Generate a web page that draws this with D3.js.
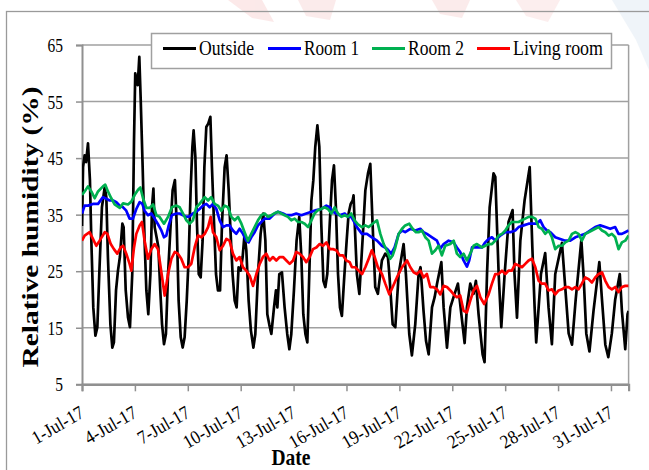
<!DOCTYPE html>
<html>
<head>
<meta charset="utf-8">
<script src="https://cdn.jsdelivr.net/npm/d3@7"></script>
<style>
  html, body { margin: 0; padding: 0; background: #ffffff; overflow: hidden; }
  text { font-family: "Liberation Serif", "Times New Roman", serif; fill: #000; }
</style>
</head>
<body>
<svg id="chart" width="649" height="470"></svg>
<script>
// Relative humidity, July 2017: outside air and three rooms.
// Each point is [days since 1 Jul 2017 00:00, RH %].
const startDate = new Date(2017, 6, 1);
const endDate = new Date(2017, 7, 1);
const yTickValues = [5, 15, 25, 35, 45, 55, 65];
const seriesNames = ["Outside", "Room 1", "Room 2", "Living room"];
const seriesColors = ["#000000", "#0000ff", "#00b050", "#ff0000"];

const outside = [[0,33],[0.06,43.4],[0.15,45.5],[0.23,44.3],[0.34,47.6],[0.45,41.1],[0.53,30.4],[0.64,18.6],[0.76,13.6],[0.87,15.1],[0.98,24.5],[1.13,36.3],[1.29,39.9],[1.38,38.1],[1.47,27.5],[1.61,15.6],[1.72,11.5],[1.81,12.4],[1.93,21.6],[2.04,25.1],[2.15,27.5],[2.29,33.4],[2.36,32.8],[2.48,21.6],[2.61,16.8],[2.72,15.1],[2.85,24.5],[2.95,48.2],[3.02,60.0],[3.10,58.8],[3.16,57.9],[3.25,62.9],[3.33,55.3],[3.44,43.4],[3.55,30.4],[3.65,21.6],[3.76,17.4],[3.88,24.5],[3.97,36.3],[4.05,39.6],[4.12,32.8],[4.23,31.0],[4.33,29.3],[4.44,21.6],[4.54,15.6],[4.65,12.1],[4.76,13.9],[4.88,24.5],[5.03,33.4],[5.14,39.3],[5.27,41.1],[5.37,33.4],[5.48,19.8],[5.60,13.3],[5.71,11.5],[5.82,13.3],[5.94,19.8],[6.05,27.5],[6.16,39.3],[6.26,47.0],[6.33,49.9],[6.43,45.2],[6.52,33.4],[6.62,24.5],[6.73,23.9],[6.84,30.4],[6.94,43.4],[7.05,50.5],[7.16,51.1],[7.28,52.3],[7.37,43.4],[7.49,33.4],[7.60,24.5],[7.71,21.6],[7.83,21.6],[7.94,33.4],[8.09,43.4],[8.20,45.5],[8.32,39.3],[8.43,31.6],[8.54,24.5],[8.66,19.8],[8.77,18.6],[8.88,25.7],[9.00,25.1],[9.11,27.5],[9.22,31.6],[9.32,28.7],[9.45,19.8],[9.58,14.5],[9.72,11.5],[9.83,13.9],[9.98,24.5],[10.13,31.6],[10.28,35.2],[10.40,30.4],[10.51,17.4],[10.62,15.6],[10.74,13.9],[10.89,18.6],[11.00,21.6],[11.08,18.6],[11.19,24.5],[11.34,24.8],[11.49,18.6],[11.64,13.9],[11.76,11.2],[11.87,13.9],[12.02,21.6],[12.17,30.4],[12.32,34.6],[12.44,27.5],[12.55,17.4],[12.67,13.9],[12.78,12.4],[12.89,24.5],[13.01,37.5],[13.12,41.1],[13.23,47.0],[13.35,50.8],[13.46,47.0],[13.57,33.4],[13.69,23.3],[13.80,22.2],[13.91,24.5],[14.05,33.4],[14.18,41.1],[14.29,43.7],[14.40,36.3],[14.52,24.5],[14.63,18.6],[14.74,17.1],[14.86,23.3],[15.01,30.4],[15.12,35.2],[15.24,36.9],[15.35,37.5],[15.40,38.4],[15.50,31],[15.59,24.5],[15.73,21.0],[15.91,30.4],[16.07,39.3],[16.22,42.3],[16.35,44.0],[16.48,33.4],[16.63,22.2],[16.78,21.0],[17.01,26.9],[17.20,28.1],[17.35,27.5],[17.43,24.5],[17.62,15.6],[17.77,15.1],[17.96,24.5],[18.24,29.8],[18.37,24.5],[18.56,13.9],[18.71,10.1],[18.90,15.6],[19.09,24.5],[19.20,25.7],[19.37,18],[19.51,12.7],[19.66,10.3],[19.85,18.6],[20.00,20.4],[20.13,22.7],[20.38,26.6],[20.51,18.6],[20.70,11.5],[20.89,18.6],[21.08,20.5],[21.32,22.8],[21.47,18.6],[21.70,12.3],[21.83,18.6],[22.02,22.8],[22.21,21],[22.34,23.3],[22.49,17.4],[22.72,10.3],[22.83,8.9],[22.97,24.5],[23.12,36.3],[23.34,42.3],[23.44,41.7],[23.63,24.5],[23.78,15.1],[23.97,24.5],[24.19,33.7],[24.42,35.8],[24.53,24.5],[24.67,16.8],[24.86,30.4],[25.10,37.5],[25.39,43.4],[25.54,29.3],[25.67,18.6],[25.76,12.4],[26.03,24.5],[26.27,28.2],[26.46,18.6],[26.65,12.1],[26.84,24.5],[27.22,30.0],[27.41,22],[27.60,14],[27.79,12.0],[28.0,20],[28.32,30.5],[28.45,24],[28.60,14],[28.78,10.8],[29.01,18],[29.34,26.6],[29.49,20],[29.68,12],[29.85,9.8],[30.05,14],[30.24,20],[30.50,24.5],[30.62,18],[30.81,11.2],[30.94,17.4],[31.0,18.0]];

const room1 = [[0,35.2],[0.15,36.6],[0.34,36.6],[0.62,36.9],[0.91,36.9],[1.19,38.1],[1.38,37.8],[1.57,37.5],[1.76,37.5],[1.95,37.2],[2.14,36.6],[2.33,36.3],[2.51,35.7],[2.70,34.3],[2.89,34.3],[3.08,36.0],[3.27,37.2],[3.42,36.9],[3.55,35.7],[3.74,34.9],[3.93,35.2],[4.12,34.3],[4.31,33.3],[4.50,32.2],[4.65,31.0],[4.78,31.3],[4.91,33.0],[5.10,34.9],[5.35,35.2],[5.54,35.2],[5.73,34.9],[5.92,34.6],[6.11,34.7],[6.29,35.2],[6.48,35.5],[6.67,36.0],[6.86,36.6],[7.05,36.9],[7.24,36.3],[7.43,36.9],[7.62,36.0],[7.81,34.0],[8.00,32.8],[8.19,33.1],[8.37,33.1],[8.56,32.2],[8.75,31.6],[8.94,32.5],[9.13,31.6],[9.32,30.4],[9.45,30.1],[9.60,31.0],[9.79,31.9],[9.98,33.1],[10.17,33.7],[10.36,34.3],[10.64,34.3],[10.93,35.2],[11.12,35.5],[11.40,35.2],[11.59,34.9],[11.87,34.9],[12.15,35.2],[12.44,34.9],[12.72,35.2],[13.01,35.5],[13.29,35.8],[13.57,36.0],[13.86,36.6],[14.05,36.3],[14.23,35.5],[14.42,35.2],[14.61,34.9],[14.90,35.2],[15.08,34.6],[15.27,34.6],[15.46,33.6],[15.59,32.8],[15.88,31.6],[16.16,31.6],[16.44,31.0],[16.73,30.4],[17.01,29.5],[17.29,29.0],[17.54,28.1],[17.73,29.2],[17.96,31.6],[18.15,32.2],[18.33,31.9],[18.62,32.5],[18.90,32.2],[19.19,32.5],[19.37,31.9],[19.56,31.6],[19.85,31.0],[20.13,30.4],[20.32,29.0],[20.51,29.8],[20.79,30.4],[21.08,30.1],[21.26,29.2],[21.45,28.4],[21.64,26.9],[21.83,25.8],[21.96,26.9],[22.12,29.2],[22.40,29.2],[22.68,29.2],[22.87,30.1],[23.06,30.7],[23.25,31.0],[23.44,30.4],[23.72,31.3],[24.01,31.9],[24.29,31.9],[24.57,32.2],[24.76,32.8],[25.05,33.1],[25.33,33.4],[25.61,33.4],[25.80,33.4],[25.99,34.0],[26.18,32.8],[26.37,32.2],[26.56,31.9],[26.84,31.0],[27.12,30.7],[27.41,30.4],[27.69,30.4],[27.98,31.0],[28.26,31.3],[28.54,31.6],[28.83,32.2],[29.11,32.8],[29.39,33.1],[29.68,32.8],[29.96,32.5],[30.24,32.8],[30.43,31.6],[30.62,31.6],[30.81,31.9],[31.0,32.2]];

const room2 = [[0,38.5],[0.15,39.1],[0.34,40.0],[0.53,39.1],[0.72,37.9],[0.91,39.1],[1.19,40.0],[1.32,40.3],[1.47,39.1],[1.66,37.9],[1.85,36.8],[2.14,36.2],[2.33,37.0],[2.61,36.8],[2.80,37.3],[2.99,38.5],[3.18,39.4],[3.31,39.8],[3.46,37.9],[3.65,36.2],[3.84,36.2],[4.03,36.8],[4.22,34.9],[4.40,34.6],[4.65,33.4],[4.88,34.6],[5.10,36.3],[5.35,36.6],[5.54,36.3],[5.73,35.2],[5.92,34.0],[6.11,33.4],[6.29,34.0],[6.48,36.3],[6.67,36.9],[6.81,37.5],[6.96,38.1],[7.15,37.5],[7.33,38.1],[7.52,36.9],[7.71,36.6],[7.90,35.7],[8.09,36.6],[8.28,36.3],[8.47,34.6],[8.66,34.0],[8.85,34.6],[9.04,33.4],[9.22,31.9],[9.41,30.4],[9.60,31.6],[9.79,32.8],[9.98,34.0],[10.17,34.9],[10.36,35.2],[10.55,34.6],[10.74,34.9],[10.96,35.3],[11.12,35.5],[11.30,35.2],[11.49,34.9],[11.68,34.6],[11.87,34.0],[12.06,34.3],[12.25,33.7],[12.44,33.7],[12.63,33.4],[12.82,32.8],[13.01,34.0],[13.19,35.2],[13.38,35.8],[13.57,36.0],[13.76,36.3],[13.95,36.0],[14.14,35.2],[14.33,36.3],[14.52,35.2],[14.71,34.6],[14.90,34.9],[15.08,34.6],[15.27,35.2],[15.46,34.0],[15.65,33.3],[15.88,32.8],[16.07,33.1],[16.26,32.8],[16.48,33.4],[16.73,34.0],[16.92,31.6],[17.11,29.8],[17.29,28.7],[17.48,27.2],[17.62,27.8],[17.77,29.2],[17.96,31.6],[18.15,32.5],[18.33,33.1],[18.56,33.4],[18.75,32.5],[18.94,31.9],[19.09,31.9],[19.28,32.2],[19.47,31.0],[19.66,30.4],[19.85,28.1],[20.04,28.7],[20.22,29.5],[20.41,27.8],[20.60,29.5],[20.89,29.8],[21.08,30.4],[21.26,28.1],[21.45,27.5],[21.64,28.1],[21.83,26.9],[22.02,28.1],[22.21,29.5],[22.40,29.8],[22.68,29.2],[22.87,29.5],[23.06,29.8],[23.25,29.8],[23.44,30.4],[23.63,31.3],[23.82,31.6],[24.01,32.2],[24.19,33.1],[24.38,33.7],[24.57,33.7],[24.76,33.7],[24.95,34.0],[25.14,34.3],[25.33,34.6],[25.52,34.6],[25.71,34.3],[25.90,32.8],[26.08,32.5],[26.27,31.6],[26.46,32.2],[26.65,31.0],[26.84,28.9],[27.03,29.5],[27.22,29.5],[27.41,30.1],[27.60,30.4],[27.79,31.6],[27.98,31.9],[28.16,31.6],[28.35,30.4],[28.54,31.6],[28.73,31.9],[28.92,32.2],[29.11,32.5],[29.30,32.8],[29.49,32.2],[29.68,31.9],[29.87,31.3],[30.05,31.6],[30.24,31.0],[30.43,28.9],[30.62,30.1],[30.81,30.4],[31.0,31.3]];

const livingRoom = [[0,30.4],[0.15,31.3],[0.43,31.9],[0.62,30.7],[0.81,29.5],[1.00,30.4],[1.29,31.9],[1.44,31.6],[1.63,29.8],[1.81,28.9],[2.00,28.1],[2.19,29.2],[2.33,29.5],[2.51,28.1],[2.70,26.3],[2.80,25.1],[2.95,29.2],[3.08,31.6],[3.27,33.1],[3.40,33.7],[3.55,30.4],[3.74,27.2],[3.93,28.9],[4.12,29.8],[4.31,28.9],[4.46,25.7],[4.69,20.7],[4.88,24.5],[5.07,27.2],[5.26,28.4],[5.44,28.1],[5.63,27.2],[5.82,25.7],[6.01,25.7],[6.20,26.3],[6.39,29.2],[6.58,31.3],[6.77,31.0],[6.96,31.6],[7.15,32.8],[7.30,34.6],[7.43,31.9],[7.62,31.0],[7.81,28.7],[8.00,29.5],[8.19,30.7],[8.37,30.4],[8.56,28.1],[8.75,26.9],[8.94,27.5],[9.13,25.7],[9.32,25.1],[9.51,24.2],[9.70,22.4],[9.89,24.5],[10.08,26.3],[10.26,27.5],[10.45,28.1],[10.64,26.9],[10.83,27.5],[11.02,26.9],[11.21,27.5],[11.40,27.5],[11.59,26.9],[11.78,26.3],[11.97,26.9],[12.15,28.4],[12.34,28.1],[12.53,27.5],[12.72,26.6],[12.91,27.5],[13.10,28.9],[13.29,29.2],[13.48,29.8],[13.67,29.5],[13.86,30.1],[14.05,28.9],[14.23,28.9],[14.42,28.7],[14.61,27.8],[14.80,27.8],[14.99,26.9],[15.18,26.6],[15.31,25.7],[15.50,25.7],[15.69,25.1],[15.88,24.5],[16.07,25.7],[16.26,27.2],[16.44,28.7],[16.60,27.5],[16.78,25.7],[17.01,24.5],[17.20,22.8],[17.43,20.9],[17.62,22.2],[17.86,23.9],[18.15,25.7],[18.43,26.9],[18.62,25.7],[18.81,24.8],[18.99,24.5],[19.19,25.1],[19.37,23.9],[19.56,24.5],[19.75,22.2],[19.94,22.2],[20.13,21.8],[20.32,20.9],[20.51,22.4],[20.70,22.2],[20.89,21.6],[21.08,20.9],[21.26,20.4],[21.45,20.7],[21.64,18.0],[21.83,17.7],[22.02,19.8],[22.21,21.6],[22.40,22.4],[22.59,20.4],[22.81,19.2],[23.06,20.9],[23.25,22.8],[23.44,24.5],[23.63,24.5],[23.82,25.1],[24.01,24.5],[24.19,25.1],[24.38,25.1],[24.57,26.3],[24.76,26.0],[24.95,25.7],[25.14,26.3],[25.33,26.9],[25.52,27.2],[25.71,25.7],[25.90,23.3],[26.08,22.8],[26.27,22.8],[26.46,21.6],[26.65,21.8],[26.84,20.9],[27.03,21.6],[27.22,21.8],[27.41,22.2],[27.60,22.2],[27.79,21.8],[27.98,22.2],[28.16,21.8],[28.35,22.8],[28.54,23.9],[28.73,23.6],[28.92,23.0],[29.11,23.9],[29.30,24.5],[29.49,24.8],[29.68,23.3],[29.87,22.2],[30.05,21.8],[30.24,22.2],[30.43,21.3],[30.62,22.2],[30.81,22.4],[31.0,22.4]];

const allSeries = [outside, room1, room2, livingRoom];

// ---- layout ----
const plot = { left: 82, right: 628.6, top: 45, bottom: 384.3 };
const svg = d3.select("#chart");

const x = d3.scaleTime().domain([startDate, endDate]).range([plot.left, plot.right]);
const y = d3.scaleLinear().domain([5, 65]).range([plot.bottom, plot.top]);
const toDate = d => new Date(startDate.getTime() + d * 86400000);

// faint background artwork behind the chart frame
const deco = svg.append("g").attr("opacity", 0.4);
deco.append("path").attr("d", "M228,0 L262,0 L274,22 L252,18 Z").attr("fill", "#f7c9c9");
deco.append("path").attr("d", "M298,0 L336,0 L330,20 L306,16 Z").attr("fill", "#f7cfcf");
deco.append("path").attr("d", "M432,0 L470,0 L462,18 L440,14 Z").attr("fill", "#f7cfcf");
deco.append("path").attr("d", "M516,0 L560,0 L548,22 L526,16 Z").attr("fill", "#f9d6d6");
deco.append("path").attr("d", "M612,0 L649,0 L649,70 L636,40 Z").attr("fill", "#d9e6f1");

// outer chart frame
svg.append("rect")
  .attr("x", 6.5).attr("y", 11.5).attr("width", 700).attr("height", 500)
  .attr("fill", "none").attr("stroke", "#9a9a9a").attr("stroke-width", 1.3);

// horizontal gridlines
svg.append("g").selectAll("line").data(yTickValues).join("line")
  .attr("x1", plot.left).attr("x2", plot.right)
  .attr("y1", d => y(d)).attr("y2", d => y(d))
  .attr("stroke", "#a0a0a0").attr("stroke-width", 1.5);

// right border of the plot area
svg.append("line")
  .attr("x1", plot.right).attr("x2", plot.right)
  .attr("y1", plot.top).attr("y2", plot.bottom)
  .attr("stroke", "#a0a0a0").attr("stroke-width", 1.5);

// y axis
const yAxis = svg.append("g")
  .attr("transform", `translate(${plot.left},0)`)
  .call(d3.axisLeft(y).tickValues(yTickValues).tickSize(6).tickFormat(d3.format("d")));
yAxis.select(".domain").attr("stroke", "#909090").attr("stroke-width", 2);
yAxis.selectAll(".tick line").attr("stroke", "#909090").attr("stroke-width", 1.5);
yAxis.selectAll(".tick text").remove();
yAxis.selectAll(".tick").append("text")
  .attr("text-anchor", "end")
  .attr("transform", "translate(-19,6.5) scale(0.86,1)")
  .attr("font-size", 18)
  .text(d => d);

// x axis
const xTicks = d3.timeDay.every(3).range(startDate, endDate);
const xAxis = svg.append("g")
  .attr("transform", `translate(0,${plot.bottom})`)
  .call(d3.axisBottom(x).tickValues(xTicks).tickSize(7).tickFormat(d3.timeFormat("%-d-%b-%y")));
xAxis.select(".domain").attr("stroke", "#909090").attr("stroke-width", 2.2);
xAxis.selectAll(".tick line").attr("stroke", "#909090").attr("stroke-width", 1.5);
xAxis.selectAll(".tick text").remove();
xAxis.selectAll(".tick").append("text")
  .attr("text-anchor", "end")
  .attr("font-size", 19)
  .attr("transform", "translate(3,32) rotate(-30) scale(0.9,1)")
  .text(d => d3.timeFormat("%-d-%b-%y")(d));

// axis titles
svg.append("text")
  .attr("transform", "translate(37.5,227) rotate(-90)")
  .attr("text-anchor", "middle")
  .attr("font-size", 22.5).attr("font-weight", "bold")
  .attr("textLength", 281).attr("lengthAdjust", "spacingAndGlyphs")
  .text("Relative humidity (%)");

svg.append("text")
  .attr("x", 291).attr("y", 465)
  .attr("text-anchor", "middle")
  .attr("font-size", 24).attr("font-weight", "bold")
  .attr("textLength", 39).attr("lengthAdjust", "spacingAndGlyphs")
  .text("Date");

// series lines
svg.append("clipPath").attr("id", "plot-clip")
  .append("rect").attr("x", plot.left).attr("y", plot.top - 5)
  .attr("width", plot.right - plot.left).attr("height", plot.bottom - plot.top + 5);

const line = d3.line().x(d => x(toDate(d[0]))).y(d => y(d[1]));
svg.append("g").attr("clip-path", "url(#plot-clip)")
  .selectAll("path").data(allSeries).join("path")
  .attr("d", line)
  .attr("fill", "none")
  .attr("stroke", (d, i) => seriesColors[i])
  .attr("stroke-width", 2.7)
  .attr("stroke-linejoin", "round");

// legend
const legendBox = { x: 151, y: 33, w: 460, h: 35 };
const legendLineStart = [163, 268, 372, 477];
const legendTextWidth = [55, 55, 56, 90];
const legend = svg.append("g");
legend.append("rect")
  .attr("x", legendBox.x + 0.5).attr("y", legendBox.y + 0.5)
  .attr("width", legendBox.w).attr("height", legendBox.h)
  .attr("fill", "#ffffff").attr("stroke", "#a0a0a0").attr("stroke-width", 1.5);
seriesNames.forEach((name, i) => {
  const x0 = legendLineStart[i];
  legend.append("line")
    .attr("x1", x0).attr("x2", x0 + 33).attr("y1", 48.5).attr("y2", 48.5)
    .attr("stroke", seriesColors[i]).attr("stroke-width", 3);
  legend.append("text")
    .attr("x", x0 + 36).attr("y", 55)
    .attr("font-size", 20)
    .attr("textLength", legendTextWidth[i]).attr("lengthAdjust", "spacingAndGlyphs")
    .text(name);
});
</script>
</body>
</html>
